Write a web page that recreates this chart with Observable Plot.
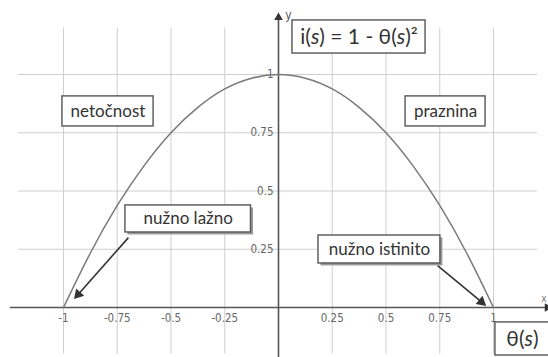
<!DOCTYPE html>
<html>
<head>
<meta charset="utf-8">
<script src="https://cdn.jsdelivr.net/npm/d3@7"></script>
<script src="https://cdn.jsdelivr.net/npm/@observablehq/plot@0.6"></script>
<style>
  html, body { margin: 0; padding: 0; background: #ffffff; }
  #chart svg { display: block; }
</style>
</head>
<body>
<div id="chart"></div>
<script>
// ---- data ----
const thetaValues = [-1, -0.875, -0.75, -0.625, -0.5, -0.375, -0.25, -0.125, 0, 0.125, 0.25, 0.375, 0.5, 0.625, 0.75, 0.875, 1];
const iValues     = [0, 0.234, 0.438, 0.609, 0.75, 0.859, 0.938, 0.984, 1, 0.984, 0.938, 0.859, 0.75, 0.609, 0.438, 0.234, 0];

const xTickValues = [-1, -0.75, -0.5, -0.25, 0.25, 0.5, 0.75, 1];
const xTickLabels = ["-1", "-0.75", "-0.5", "-0.25", "0.25", "0.5", "0.75", "1"];
const yTickValues = [0.25, 0.5, 0.75, 1];
const yTickLabels = ["0.25", "0.5", "0.75", "1"];
const xGridValues = [-1, -0.75, -0.5, -0.25, 0.25, 0.5, 0.75, 1];
const yGridValues = [0.25, 0.5, 0.75, 1];

// annotation boxes (chart units)
const boxTexts = ["netočnost", "i(s) = 1 - θ(s)²", "praznina", "nužno lažno", "nužno istinito", "θ(s)"];
const boxX1 = [-1.005, 0.065, 0.591, -0.712, 0.186, 1.009];
const boxX2 = [-0.581, 0.684, 0.963, -0.128, 0.753, 1.35];
const boxY1 = [0.777, 1.090, 0.777, 0.322, 0.189, -0.206];
const boxY2 = [0.906, 1.232, 0.906, 0.438, 0.309, -0.064];
const boxShadow = [false, false, false, true, true, false];
const boxTextSize = [17, 21, 17, 17, 17, 21];

// arrows (chart units)
const arrowX1 = [-0.698, 0.740];
const arrowY1 = [0.300, 0.180];
const arrowX2 = [-0.932, 0.944];
const arrowY2 = [0.056, 0.024];
const arrowHeadAngle = [221.5, 129.7];

// ---- build tables ----
const curve = thetaValues.map((t, k) => ({theta: t, i: iValues[k]}));
const xTicks = xTickValues.map((v, k) => ({v, label: xTickLabels[k]}));
const yTicks = yTickValues.map((v, k) => ({v, label: yTickLabels[k]}));
const boxes = boxTexts.map((text, k) => ({
  text, x1: boxX1[k], x2: boxX2[k], y1: boxY1[k], y2: boxY2[k],
  cx: (boxX1[k] + Math.min(boxX2[k], 1.26)) / 2, cy: (boxY1[k] + boxY2[k]) / 2,
  shadow: boxShadow[k], size: boxTextSize[k]
}));
const arrows = arrowX1.map((x1, k) => ({x1, y1: arrowY1[k], x2: arrowX2[k], y2: arrowY2[k], rot: arrowHeadAngle[k]}));

const tickFont = "'Liberation Sans Narrow', 'DejaVu Sans Condensed', sans-serif";
const boxFont = "Lato, 'Open Sans', sans-serif";

const chart = Plot.plot({
  width: 548,
  height: 357,
  margin: 0,
  style: {background: "white", overflow: "hidden"},
  x: {domain: [-1, 1], range: [63, 493], axis: null},
  y: {domain: [0, 1], range: [307, 74], axis: null},
  marks: [
    // grid
    Plot.ruleX(xGridValues, {x: d => d, y1: -0.2, y2: 1.2, stroke: "#cfcfcf", strokeWidth: 1}),
    Plot.ruleY(yGridValues, {y: d => d, x1: -1.21, x2: 1.205, stroke: "#cfcfcf", strokeWidth: 1}),
    // axes
    Plot.ruleY([0], {x1: -1.247, x2: 1.255, stroke: "#555", strokeWidth: 1.6}),
    Plot.ruleX([0], {y1: -0.22, y2: 1.24, stroke: "#555", strokeWidth: 1.6}),
    Plot.dot([{x: 0, y: 1.245}], {x: "x", y: "y", symbol: "triangle", r: 3.2, fill: "#333", stroke: "none"}),
    Plot.dot([{x: 1.250, y: 0}], {x: "x", y: "y", symbol: "triangle", r: 3.2, fill: "#333", stroke: "none", rotate: 90}),
    Plot.text([{x: 0, y: 1.255, t: "y"}], {x: "x", y: "y", text: "t", dx: 10, fontSize: 12, fill: "#555", fontFamily: tickFont}),
    Plot.text([{x: 1.235, y: 0, t: "x"}], {x: "x", y: "y", text: "t", dy: -9, fontSize: 10, fill: "#777", fontFamily: tickFont}),
    // tick labels
    Plot.text(xTicks, {x: "v", y: 0, text: "label", dy: 11, fontSize: 11.5, fill: "#666", fontFamily: tickFont}),
    Plot.text(yTicks, {x: 0, y: "v", text: "label", dx: -5, textAnchor: "end", fontSize: 11.5, fill: "#666", fontFamily: tickFont}),
    // curve
    Plot.line(curve, {x: "theta", y: "i", curve: "natural", stroke: "#7a7a7a", strokeWidth: 1.5}),
    // arrows
    Plot.link(arrows, {x1: "x1", y1: "y1", x2: "x2", y2: "y2", stroke: "#333", strokeWidth: 1.6}),
    Plot.dot(arrows, {x: "x2", y: "y2", symbol: "triangle", r: 4, fill: "#333", stroke: "none", rotate: "rot"}),
    // boxes
    Plot.rect(boxes.filter(d => d.shadow), {x1: "x1", x2: "x2", y1: "y1", y2: "y2", dx: 2.5, dy: 2.5, fill: "#9a9a9a"}),
    Plot.rect(boxes, {x1: "x1", x2: "x2", y1: "y1", y2: "y2", fill: "white", stroke: "#555", strokeWidth: 1.4}),
    Plot.text(boxes, {x: "cx", y: "cy", text: "text", fontSize: d => d.size, fill: "#333", fontFamily: boxFont})
  ]
});

document.getElementById("chart").appendChild(chart);

// italic "s" inside "(s)"
d3.select(chart).selectAll("text").each(function() {
  const el = this;
  if (el.children && el.children.length) return;
  const txt = el.textContent;
  if (!txt.includes("(s)")) return;
  el.textContent = "";
  const segs = txt.split("(s)");
  segs.forEach((seg, k) => {
    const a = document.createElementNS("http://www.w3.org/2000/svg", "tspan");
    a.textContent = seg + (k < segs.length - 1 ? "(" : "");
    el.appendChild(a);
    if (k < segs.length - 1) {
      const b = document.createElementNS("http://www.w3.org/2000/svg", "tspan");
      b.textContent = "s";
      b.setAttribute("font-style", "italic");
      el.appendChild(b);
      const c = document.createElementNS("http://www.w3.org/2000/svg", "tspan");
      c.textContent = ")";
      el.appendChild(c);
    }
  });
});
</script>
</body>
</html>
